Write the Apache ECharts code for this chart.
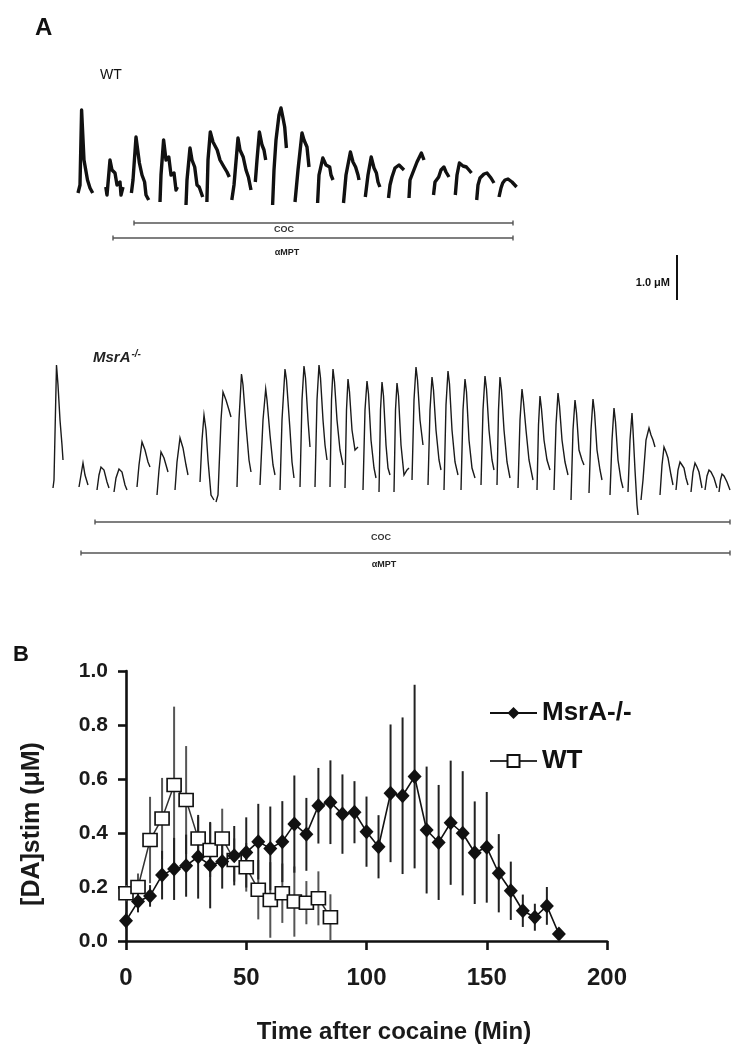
<!DOCTYPE html>
<html><head><meta charset="utf-8">
<script src="https://cdn.jsdelivr.net/npm/echarts@6/dist/echarts.min.js"></script>
<style>html,body{margin:0;padding:0;background:#fff}#c{width:736px;height:1050px}</style>
</head><body><div id="c"></div>
<script>
// ---------- Panel B data ----------
const timeMin = [0,5,10,15,20,25,30,35,40,45,50,55,60,65,70,75,80,85,90,95,100,105,110,115,120,125,130,135,140,145,150,155,160,165,170,175,180];
const msraMean = [0.075,0.146,0.167,0.244,0.267,0.279,0.312,0.281,0.294,0.316,0.328,0.368,0.343,0.368,0.433,0.395,0.501,0.514,0.470,0.477,0.405,0.349,0.547,0.538,0.609,0.411,0.365,0.438,0.399,0.327,0.347,0.251,0.186,0.112,0.088,0.130,0.026];
const msraErr  = [0.03,0.04,0.04,0.09,0.115,0.115,0.155,0.16,0.10,0.11,0.13,0.14,0.155,0.15,0.18,0.135,0.14,0.155,0.147,0.115,0.13,0.117,0.255,0.29,0.34,0.235,0.213,0.23,0.23,0.19,0.205,0.145,0.108,0.06,0.05,0.07,0.0];
const wtTime = [0,5,10,15,20,25,30,35,40,45,50,55,60,65,70,75,80,85];
const wtMean = [0.177,0.200,0.374,0.454,0.578,0.522,0.380,0.337,0.380,0.300,0.273,0.190,0.152,0.177,0.146,0.142,0.158,0.088];
const wtErr  = [0.03,0.05,0.16,0.15,0.29,0.20,0.08,0.10,0.11,0.08,0.09,0.11,0.14,0.11,0.13,0.08,0.10,0.085];
const xTicks = [0,50,100,150,200];
const yTicks = [0.0,0.2,0.4,0.6,0.8,1.0];

// ---------- Panel A traces (time a.u., signal a.u.) ----------
const wtPulses = [
 [[78,193],[80,185],[81.6,110],[84,160],[87.5,180],[90,188],[92.7,193]],
 [[105.8,187],[107,195],[110,160],[112,170],[115,173],[117,185],[120,182],[121,195],[123,187]],
 [[131.4,193],[133,180],[136,137],[139.4,163],[142,175],[144.6,182],[146,195],[148.7,200]],
 [[160,202],[161,175],[163.6,140],[166,160],[168.8,157],[171,175],[174,173],[176,190],[177.4,187]],
 [[186,205],[187,180],[190,148],[192,160],[194.7,167],[197,185],[199.2,187],[202.7,197]],
 [[206.9,202],[208,160],[210.3,132],[213,142],[217.2,150],[220,160],[224,167],[227,172],[229.3,177]],
 [[231.8,200],[234,185],[238,138],[240,150],[243.2,157],[246,170],[248.4,177],[251,190]],
 [[255.3,182],[257,160],[259.4,132],[262,145],[264,150],[265.7,160]],
 [[272.6,205],[274,170],[276,140],[279,115],[281,108],[283,118],[284.7,127],[286.4,148]],
 [[295,202],[298,170],[302,133],[304,140],[307,147],[309,167]],
 [[317.6,203],[319,175],[322.8,158],[326,165],[329.7,167],[331,175],[333,180]],
 [[343.5,203],[346,175],[350.4,152],[353,162],[355.6,167],[358,175],[359,180]],
 [[365.3,197],[368,175],[371.2,157],[374,168],[376.4,173],[378,182],[379.9,187]],
 [[388.5,198],[390,185],[392,177],[395,168],[399,165],[401,167],[404,170]],
 [[409,198],[410,180],[412.7,173],[417,162],[421.4,153],[424,160]],
 [[433.5,195],[435,182],[438.7,177],[441,170],[443.9,167],[446,172],[449,177]],
 [[455.3,195],[457,175],[459.4,163],[463,166],[466.4,167],[469,170],[471.5,173]],
 [[476.7,200],[478,185],[480,178],[484,174],[487,173],[491,178],[494,183]],
 [[499,197],[501,188],[502.7,183],[505,180],[508,179],[512,182],[516.6,187]]
];
const msraPulses = [
 [[53,488],[54,480],[56.5,365],[58,385],[60,420],[62,445],[63,460]],
 [[79,487],[81,475],[83,463],[85,475],[88,485]],
 [[97,490],[99,475],[101,467],[104,470],[107,482],[109,488]],
 [[114,492],[116,478],[119,469],[122,472],[125,485],[127,490]],
 [[137,487],[139,465],[142,442],[145,450],[148,462],[150,467]],
 [[157,495],[159,470],[161,452],[164,458],[166,465],[168,472]],
 [[175,490],[177,462],[180,438],[183,448],[186,465],[188,475]],
 [[200,482],[202,440],[204,415],[206,430],[208,460],[211,495],[214,500]],
 [[216,502],[218,495],[221,420],[223,392],[226,400],[229,410],[231,417]],
 [[237,487],[239,420],[241.5,374],[243,385],[246,425],[249,460],[251,472]],
 [[260,485],[263,420],[265.7,389],[267,400],[270,435],[273,465],[275,475]],
 [[280,490],[282,420],[285,369],[286.5,380],[290,430],[292,462],[294,478]],
 [[300,487],[302,400],[304,366],[305.5,378],[308,420],[310,447]],
 [[315,487],[317,400],[319,365],[320.5,378],[323,420],[325,445],[327,460]],
 [[330,487],[331.5,400],[333,369],[334.5,382],[337,420],[340,450],[343,465]],
 [[345,488],[346.5,410],[348,379],[349.5,392],[352,430],[355,450],[358,447]],
 [[363,490],[365,410],[367,381],[368.5,394],[371,440],[374,468],[376,478]],
 [[379,492],[380.5,410],[382,382],[383.5,396],[386,445],[388,468],[390,475]],
 [[394,492],[395.5,410],[397,383],[398.5,396],[401,445],[404,475],[407,470],[409,468]],
 [[412,480],[414,400],[416,367],[417.5,380],[420,420],[423,445]],
 [[428,485],[430,410],[432,377],[433.5,390],[436,430],[439,460],[441,470]],
 [[444,490],[446,405],[448,371],[449.5,384],[452,430],[455,462],[458,475]],
 [[461,490],[463,410],[465,379],[466.5,392],[469,440],[472,468],[475,478]],
 [[481,485],[483,410],[485,376],[486.5,389],[489,430],[492,460],[494,470]],
 [[497,485],[498.5,410],[500,377],[501.5,390],[504,430],[507,462],[510,478]],
 [[518,488],[520,420],[522,389],[523.5,402],[526,430],[529,460],[533,480]],
 [[537,490],[538.5,425],[540,396],[541.5,409],[544,440],[547,460],[550,470]],
 [[554,490],[556,425],[558,393],[559.5,406],[562,440],[565,462],[568,475]],
 [[571,500],[573,430],[575,400],[576.5,413],[579,450],[582,460],[584,465]],
 [[589,493],[591,430],[593,399],[594.5,412],[597,450],[600,470],[602,480]],
 [[610,495],[612,440],[614,408],[615.5,422],[618,460],[621,480],[623,488]],
 [[628,492],[630,440],[632,413],[633,430],[635,470],[637,505],[638,515]],
 [[641,500],[643,480],[646,440],[649,428],[651,435],[653,440],[655,447]],
 [[660,495],[662,465],[664,447],[666,452],[668,458],[671,475],[673,485]],
 [[676,490],[678,470],[680,462],[682,465],[684,468],[686,478],[688,485]],
 [[691,492],[693,472],[695,463],[697,467],[699,472],[702,488]],
 [[705,490],[707,476],[709,470],[711,472],[714,478],[717,488]],
 [[719,492],[720.5,480],[722,474],[724,476],[727,482],[730,490]]
];

const FONT = "'Liberation Sans', Arial, sans-serif";
const chart = echarts.init(document.getElementById('c'), null, {renderer:'canvas'});

function errRender(color){
  return function(params, api){
    const x = api.value(0), y = api.value(1), e = api.value(2);
    if (!e) return null;
    const p1 = api.coord([x, y - e]), p2 = api.coord([x, y + e]);
    return {type:'line', shape:{x1:p1[0], y1:p1[1], x2:p2[0], y2:p2[1]}, style:{stroke:color, lineWidth:2}};
  };
}

const txt = (x, y, text, size, opts={}) => Object.assign({
  type:'text', x, y, style:Object.assign({text, fontSize:size, fontFamily:FONT, fill:'#111', align:'left', verticalAlign:'middle'}, opts.style||{})
}, opts.extra||{});
const hline = (x1, x2, y, color) => ([
  {type:'line', shape:{x1, y1:y, x2, y2:y}, style:{stroke:color, lineWidth:1.6}},
  {type:'line', shape:{x1, y1:y-2.5, x2:x1, y2:y+2.5}, style:{stroke:color, lineWidth:1.4}},
  {type:'line', shape:{x1:x2, y1:y-2.5, x2, y2:y+2.5}, style:{stroke:color, lineWidth:1.4}}
]);

const option = {
  animation:false,
  backgroundColor:'#fff',
  grid:[
    {left:60, top:100, width:470, height:110, outerBoundsMode:'none'},
    {left:40, top:355, width:700, height:170, outerBoundsMode:'none'},
    {left:126, top:671, width:481, height:270, outerBoundsMode:'none'}
  ],
  xAxis:[
    {gridIndex:0, type:'value', min:60, max:530, show:false},
    {gridIndex:1, type:'value', min:40, max:740, show:false},
    {gridIndex:2, type:'value', min:xTicks[0], max:xTicks[xTicks.length-1], interval:50,
     axisLine:{show:true, onZero:false, lineStyle:{color:'#111', width:2.6}},
     axisTick:{show:true, inside:false, length:9, lineStyle:{color:'#111', width:2.6}},
     splitLine:{show:false},
     axisLabel:{margin:25, fontSize:24, fontWeight:'bold', color:'#1a1a1a', fontFamily:FONT}}
  ],
  yAxis:[
    {gridIndex:0, type:'value', min:100, max:210, inverse:true, show:false},
    {gridIndex:1, type:'value', min:355, max:525, inverse:true, show:false},
    {gridIndex:2, type:'value', min:yTicks[0], max:yTicks[yTicks.length-1], interval:0.2,
     axisLine:{show:true, onZero:false, lineStyle:{color:'#111', width:2.6}},
     axisTick:{show:true, inside:false, length:8, lineStyle:{color:'#111', width:2.6}},
     splitLine:{show:false},
     axisLabel:{margin:18, fontSize:21, fontWeight:'bold', color:'#1a1a1a', fontFamily:FONT,
                formatter:v=>v.toFixed(1)}}
  ],
  legend:[
    {data:['MsrA-/-'], left:484, top:695, itemWidth:47, itemHeight:15, itemGap:6,
     textStyle:{fontSize:26, fontWeight:'bold', color:'#111', fontFamily:FONT}},
    {data:['WT'], left:484, top:743, itemWidth:47, itemHeight:15, itemGap:6,
     textStyle:{fontSize:26, fontWeight:'bold', color:'#111', fontFamily:FONT}}
  ],
  series:[
    {type:'lines', coordinateSystem:'cartesian2d', xAxisIndex:0, yAxisIndex:0, polyline:true, silent:true,
     lineStyle:{color:'#111', width:3.4, opacity:1, join:'round'}, data:wtPulses.map(c=>({coords:c}))},
    {type:'lines', coordinateSystem:'cartesian2d', xAxisIndex:1, yAxisIndex:1, polyline:true, silent:true,
     lineStyle:{color:'#1a1a1a', width:1.4, opacity:1}, data:msraPulses.map(c=>({coords:c}))},
    {type:'custom', name:'wtErr', xAxisIndex:2, yAxisIndex:2, z:1, renderItem:errRender('#555'),
     encode:{x:0, y:1}, data:wtTime.map((t,i)=>[t, wtMean[i], wtErr[i]])},
    {type:'custom', name:'msraErr', xAxisIndex:2, yAxisIndex:2, z:1, renderItem:errRender('#222'),
     encode:{x:0, y:1}, data:timeMin.map((t,i)=>[t, msraMean[i], msraErr[i]])},
    {type:'line', name:'WT', xAxisIndex:2, yAxisIndex:2, z:3,
     data:wtTime.map((t,i)=>[t, wtMean[i]]),
     symbol:'rect', symbolSize:[14,13],
     lineStyle:{color:'#333', width:1.5},
     itemStyle:{color:'#fff', borderColor:'#111', borderWidth:1.6}},
    {type:'line', name:'MsrA-/-', xAxisIndex:2, yAxisIndex:2, z:4,
     data:timeMin.map((t,i)=>[t, msraMean[i]]),
     symbol:'diamond', symbolSize:[14,15],
     lineStyle:{color:'#111', width:1.6},
     itemStyle:{color:'#111', borderColor:'#111', borderWidth:0}}
  ],
  graphic:[
    txt(35, 28, 'A', 24, {style:{fontWeight:'bold'}}),
    txt(100, 75, 'WT', 14),
    ...hline(134, 513, 223, '#555'),
    txt(284, 230, 'COC', 9, {style:{fontWeight:'bold', align:'center', fill:'#333'}}),
    ...hline(113, 513, 238, '#555'),
    txt(287, 253, 'αMPT', 9, {style:{fontWeight:'bold', align:'center', fill:'#222'}}),
    txt(670, 283, '1.0 μM', 11, {style:{fontWeight:'bold', align:'right'}}),
    {type:'line', shape:{x1:677, y1:255, x2:677, y2:300}, style:{stroke:'#111', lineWidth:2}},
    {type:'text', x:93, y:358, style:{
      text:'{a|MsrA}{b|-/-}', fontFamily:FONT, verticalAlign:'middle',
      rich:{a:{fontSize:15, fontStyle:'italic', fontWeight:'bold', fill:'#222', fontFamily:FONT},
            b:{fontSize:10, fontStyle:'italic', fontWeight:'bold', fill:'#222', verticalAlign:'top', padding:[0,0,8,1], fontFamily:FONT}}}},
    ...hline(95, 730, 522, '#555'),
    txt(381, 538, 'COC', 9, {style:{fontWeight:'bold', align:'center', fill:'#333'}}),
    ...hline(81, 730, 553, '#555'),
    txt(384, 565, 'αMPT', 9, {style:{fontWeight:'bold', align:'center', fill:'#222'}}),
    txt(13, 655, 'B', 22, {style:{fontWeight:'bold'}}),
    txt(394, 1032, 'Time after cocaine (Min)', 24, {style:{align:'center', fontWeight:'bold', fill:'#1a1a1a'}}),
    {type:'text', x:32, y:824, rotation:Math.PI/2,
     style:{text:'[DA]stim (μM)', fontSize:25, fontWeight:'bold', fontFamily:FONT, fill:'#1a1a1a', align:'center', verticalAlign:'middle'}}
  ]
};
chart.setOption(option);
</script>
</body></html>
